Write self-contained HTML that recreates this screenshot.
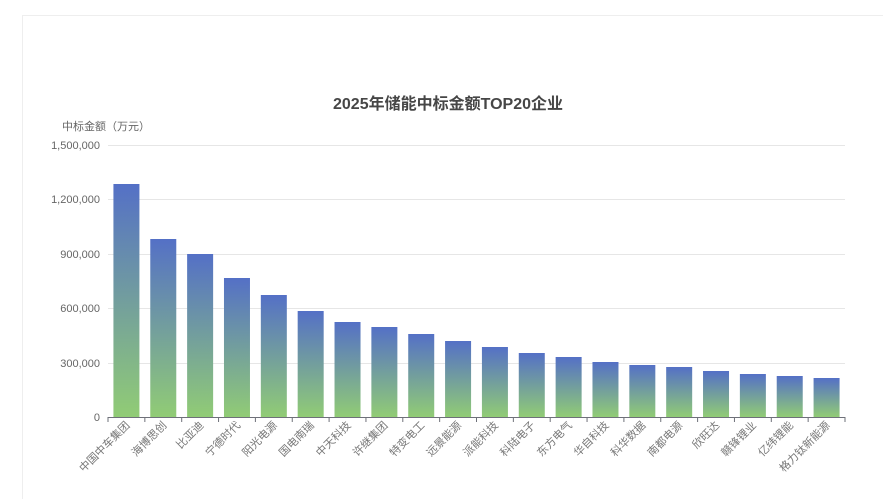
<!DOCTYPE html>
<html><head><meta charset="utf-8"><style>
body{margin:0;background:#fff;}
</style></head><body>
<svg width="883" height="499" xmlns="http://www.w3.org/2000/svg" font-family="Liberation Sans, Noto Sans CJK SC, sans-serif">
<defs><linearGradient id="g" x1="0" y1="0" x2="0" y2="1">
<stop offset="0" stop-color="#5470c6"/><stop offset="1" stop-color="#91cc75"/></linearGradient></defs>
<rect x="22.5" y="15.5" width="870" height="490" fill="none" stroke="#eee"/>
<text x="448" y="109" text-anchor="middle" font-size="16" font-weight="bold" fill="#464646">2025年储能中标金额TOP20企业</text>
<text x="106" y="130" text-anchor="middle" font-size="11" fill="#666">中标金额（万元）</text>
<g stroke="#e6e6e6">
<line x1="108" x2="845" y1="145.5" y2="145.5"/><line x1="108" x2="845" y1="199.5" y2="199.5"/>
<line x1="108" x2="845" y1="254.5" y2="254.5"/><line x1="108" x2="845" y1="308.5" y2="308.5"/>
<line x1="108" x2="845" y1="363.5" y2="363.5"/></g>
<g font-size="11" fill="#666" text-anchor="end">
<text x="100" y="149">1,500,000</text><text x="100" y="203">1,200,000</text><text x="100" y="258">900,000</text>
<text x="100" y="312">600,000</text><text x="100" y="367">300,000</text><text x="100" y="421">0</text></g>
<g id="bars"></g>
<line x1="108" x2="845" y1="417.5" y2="417.5" stroke="#6e7079"/>
<g id="lab"></g>
</svg>
<script>
var names=["中国中车集团","海博思创","比亚迪","宁德时代","阳光电源","国电南瑞","中天科技","许继集团","特变电工","远景能源","派能科技","科陆电子","东方电气","华自科技","科华数据","南都电源","欣旺达","赣锋锂业","亿纬锂能","格力钛新能源"];
var tops=[184,239,254,278,295,311,322,327,334,341,347,353,357,362,365,367,371,374,376,378];
var ns="http://www.w3.org/2000/svg",b=document.getElementById("bars"),l=document.getElementById("lab");
var w=(845-108)/20;
for(var i=0;i<20;i++){
 var cx=108+w*(i+0.5);
 var r=document.createElementNS(ns,"rect");
 r.setAttribute("x",cx-13);r.setAttribute("y",tops[i]);r.setAttribute("width",26);r.setAttribute("height",417-tops[i]);r.setAttribute("fill","url(#g)");b.appendChild(r);
 var t=document.createElementNS(ns,"line");var tx=108+w*i;
 t.setAttribute("x1",tx);t.setAttribute("x2",tx);t.setAttribute("y1",417);t.setAttribute("y2",422);t.setAttribute("stroke","#6e7079");l.appendChild(t);
 var s=document.createElementNS(ns,"text");s.setAttribute("font-size","11");s.setAttribute("fill","#777");s.setAttribute("text-anchor","end");
 s.setAttribute("transform","translate("+(cx+4)+",426) rotate(-45)");s.textContent=names[i];l.appendChild(s);
}
var t=document.createElementNS(ns,"line");t.setAttribute("x1",845);t.setAttribute("x2",845);t.setAttribute("y1",417);t.setAttribute("y2",422);t.setAttribute("stroke","#6e7079");l.appendChild(t);
</script>
</body></html>
